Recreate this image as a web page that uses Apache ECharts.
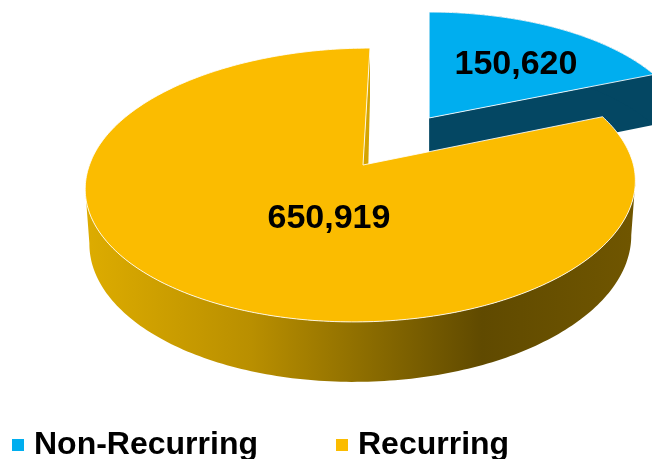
<!DOCTYPE html>
<html><head><meta charset="utf-8">
<style>html,body{margin:0;padding:0;background:#fff}#c{width:652px;height:459px;overflow:hidden}</style>
<script src="https://cdn.jsdelivr.net/npm/echarts@6/dist/echarts.min.js"></script>
</head><body><div id="c"></div>
<script>
const categories = ['Non-Recurring', 'Recurring'];
const values = [150620, 650919];
const labels = ['150,620', '650,919'];
const topColors = ['#00AEEF', '#FBBC00'];
const explode = [0.445, 0];
// label anchors in disc units, relative to each slice's apex
const labelAnchors = [[0.362, 0.475], [-0.107, -0.38]];

// Projection of the tilted disc onto the page
const P = {px: 363, py: 165, B: 272, A: 134, k: 0.146, s: 5.4, q: 3, sFront: 8, r: 1.5, depth: 54, depthSlope: 5.1, shrink: 0.985};
function proj(U, V, bottom) {
  const w = 1 + P.k * V, t = V / w, u = U / w;
  const lean = t > 0 ? P.s * t + P.q * t * t : P.sFront * t;
  let x = P.px + P.B * u + lean - P.r * u * u;
  let y = P.py - P.A * t;
  if (bottom) {
    if (t < 0.3) x = P.px + (x - P.px) * P.shrink;
    y += P.depth - P.depthSlope * t;
  }
  return [x, y];
}
const total = values.reduce((a, b) => a + b, 0);
const rad = d => d * Math.PI / 180;
function sliceGeom(i) {
  let start = 0;
  for (let j = 0; j < i; j++) start += values[j] / total * 360;
  const end = start + values[i] / total * 360;
  const mid = rad((start + end) / 2);
  return {start, end, u0: explode[i] * Math.sin(mid), v0: explode[i] * Math.cos(mid)};
}
function arc(g, bottom) {
  const pts = [];
  const n = Math.ceil(g.end - g.start);
  for (let s = 0; s <= n; s++) {
    const t = rad(g.start + (g.end - g.start) * s / n);
    pts.push(proj(g.u0 + Math.sin(t), g.v0 + Math.cos(t), bottom));
  }
  return pts;
}
const wallFills = [
  '#044763',
  {type: 'linear', x: 86, y: 0, x2: 636, y2: 0, global: true, colorStops: [
    {offset: 0, color: '#DDAC00'}, {offset: 0.3, color: '#B98F00'}, {offset: 0.52, color: '#8A6B00'},
    {offset: 0.72, color: '#604A00'}, {offset: 1, color: '#705600'}]}
];
function renderItem(params, api) {
  const i = api.value(0);
  const g = sliceGeom(i);
  const topArc = arc(g, false), botArc = arc(g, true);
  const apexT = proj(g.u0, g.v0, false), apexB = proj(g.u0, g.v0, true);
  const xs = topArc.map(p => p[0]);
  const a0 = xs.indexOf(Math.max(...xs)), a1 = xs.indexOf(Math.min(...xs));
  const lo = Math.min(a0, a1), hi = Math.max(a0, a1);
  const wallTop = topArc.slice(lo, hi + 1), wallBot = botArc.slice(lo, hi + 1).reverse();
  const last = topArc.length - 1;
  const kids = [];
  if (i === 0) {
    kids.push({type: 'polygon', shape: {points: [apexT, topArc[last], botArc[last], apexB]}, style: {fill: '#044763'}});
    kids.push({type: 'polygon', shape: {points: [apexT, topArc[0], botArc[0], apexB]}, style: {fill: '#044763'}});
  } else {
    kids.push({type: 'polygon', shape: {points: [apexT, topArc[last], botArc[last], [apexB[0] + 4, apexB[1]]]}, style: {fill: '#D5A400'}});
  }
  kids.push({type: 'polygon', shape: {points: wallTop.concat(wallBot)}, style: {fill: wallFills[i]}});
  kids.push({type: 'polygon', shape: {points: [apexT].concat(topArc)}, style: {fill: topColors[i], stroke: 'rgba(255,255,255,0.85)', lineWidth: 1}});
  const a = labelAnchors[i];
  const lp = proj(g.u0 + a[0], g.v0 + a[1], false);
  kids.push({type: 'text', style: {text: labels[i], x: lp[0], y: lp[1], fill: '#000', align: 'center', verticalAlign: 'middle',
    font: 'bold 34px "Liberation Sans", Arial, sans-serif'}});
  return {type: 'group', children: kids};
}
const chart = echarts.init(document.getElementById('c'), null, {renderer: 'canvas'});
chart.setOption({
  animation: false,
  backgroundColor: '#fff',
  legend: {
    data: categories, left: 7, top: 424, icon: 'rect', itemWidth: 12, itemHeight: 12, itemGap: 78,
    selectedMode: false,
    textStyle: {color: '#000', fontWeight: 'bold', fontSize: 32, fontFamily: '"Liberation Sans", Arial, sans-serif', padding: [0, 0, 0, 5]}
  },
  series: categories.map((name, i) => ({
    type: 'custom', name, coordinateSystem: 'none', silent: true,
    itemStyle: {color: topColors[i]},
    renderItem, data: [[i, values[i]]]
  }))
});
</script></body></html>
